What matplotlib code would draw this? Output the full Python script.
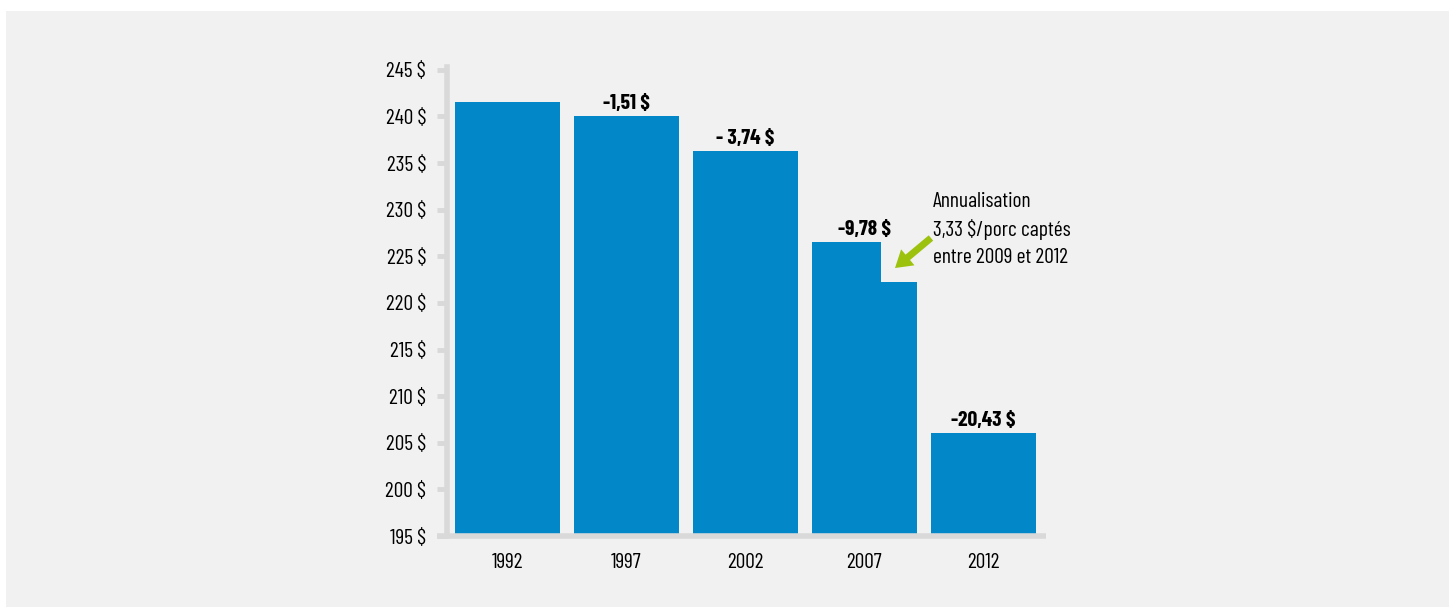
import matplotlib
matplotlib.use("Agg")
import matplotlib.pyplot as plt
from matplotlib.patches import Rectangle
from matplotlib import font_manager

# --- data --------------------------------------------------------------------
years = ["1992", "1997", "2002", "2007", "2012"]
values = [241.55, 240.04, 236.30, 226.52, 206.09]
deltas = ["", "-1,51 $", "- 3,74 $", "-9,78 $", "-20,43 $"]
value_2007_after = 222.2          # right-hand step of the 2007 bar
yticks = [195, 200, 205, 210, 215, 220, 225, 230, 235, 240, 245]
note = "Annualisation\n3,33 $/porc captés\nentre 2009 et 2012"

BLUE = "#0288c9"
BG = "#f1f1f1"
AXIS = "#d9d9d9"
GREEN = "#9dc20e"

# condensed DIN-like face if available
names = {f.name for f in font_manager.fontManager.ttflist}
family = [n for n in ("Barlow Condensed", "Roboto Condensed",
                      "Fira Sans Extra Condensed", "Fira Sans Condensed")
          if n in names][:1] + ["DejaVu Sans"]
plt.rcParams["font.family"] = family
FS = 15.5

W, H = 1449, 607
fig = plt.figure(figsize=(W / 100, H / 100), dpi=100, facecolor="white")
fig.patches.append(Rectangle((6 / W, 0), 1, 1 - 11 / H, transform=fig.transFigure,
                             facecolor=BG, edgecolor="none", zorder=-10))

ax = fig.add_axes([447 / W, 1 - 536 / H, 599 / W, 469 / H])
ax.set_facecolor("none")

xs = list(range(len(years)))
bw = 0.88
# every bar except 2007 drawn full; 2007 = lower step full width + taller left part
full = [v if y != "2007" else value_2007_after for y, v in zip(years, values)]
ax.bar(xs, [v - 195 for v in full], bw, bottom=195, color=BLUE, zorder=2)
i07 = years.index("2007")
left_w = bw * 0.657
ax.bar(i07 - bw / 2, values[i07] - 195, left_w, bottom=195, align="edge",
       color=BLUE, zorder=2)

for x, v, d in zip(xs, values, deltas):
    if d:
        ax.text(x, v + 0.3, d, ha="center", va="bottom", fontsize=FS,
                fontweight="bold", color="black")

ax.annotate("", xy=(3.257, 223.74), xytext=(3.559, 226.96),
            arrowprops=dict(arrowstyle="simple,head_length=0.6,head_width=0.75,tail_width=0.25",
                            color=GREEN, lw=0, shrinkA=0, shrinkB=0, mutation_scale=20))
ax.text(3.576, 227.9, note, ha="left", va="center", fontsize=FS, linespacing=1.5)

ax.set_xlim(-0.508, 4.526)
ax.set_ylim(195, 245.3)
ax.set_xticks(xs)
ax.set_xticklabels(years)
ax.set_yticks(yticks)
ax.set_yticklabels([f"{t} $" for t in yticks])
ax.tick_params(axis="y", length=7, width=3.5, color=AXIS, pad=8, labelsize=FS)
ax.tick_params(axis="x", length=0, pad=12, labelsize=FS)

for s in ("top", "right", "bottom"):
    ax.spines[s].set_visible(False)
ax.spines["left"].set_color(AXIS)
ax.spines["left"].set_linewidth(4)
ax.plot([-10 / 599, 1], [0, 0], transform=ax.transAxes, color=AXIS, lw=4,
        clip_on=False, solid_capstyle="butt", zorder=3)

fig.savefig("out.png", dpi=100, facecolor="white")
